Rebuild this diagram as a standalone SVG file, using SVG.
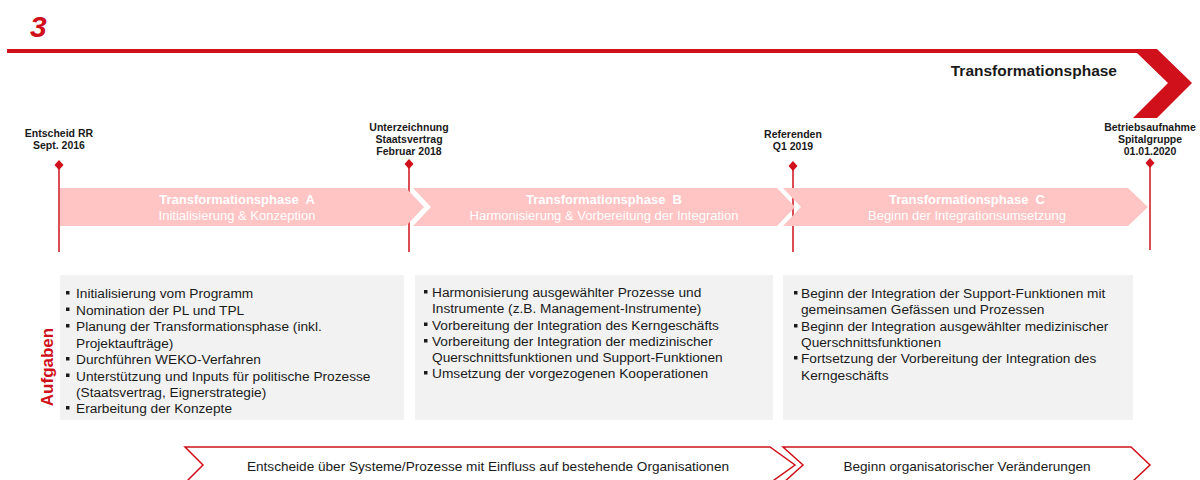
<svg xmlns="http://www.w3.org/2000/svg" width="1200" height="480" viewBox="0 0 1200 480">
<style>
text{font-family:"Liberation Sans",Arial,sans-serif}
.ms{font-size:10.5px;font-weight:bold;fill:#1a1a1a;text-anchor:middle}
.mline{stroke:#d0101a;stroke-width:1.5}
.dia{fill:#d0101a}
.band{fill:#ffc4c4}
.bt1{font-size:13px;font-weight:bold;fill:#fff;text-anchor:middle;white-space:pre}
.bt2{font-size:13px;fill:#fff;text-anchor:middle}
.box{fill:#f2f2f2}
.tx{font-size:13.7px;fill:#1a1a1a}
.bul{fill:#1a1a1a}
.chev{fill:#fff;stroke:#d0101a;stroke-width:1.5}
.ct{font-size:13.6px;fill:#1a1a1a;text-anchor:middle}
</style>
<rect width="1200" height="480" fill="#fff"/>
<g id="header">
<text x="30" y="37" font-size="30" font-weight="bold" font-style="italic" fill="#d0101a">3</text>
<polygon points="7,49 1157,49 1192,83 1157,118 1133,118 1168,83 1137,53 7,53" fill="#d0101a"/>
<text x="1117" y="76" font-size="15.5" font-weight="bold" fill="#1a1a1a" text-anchor="end">Transformationsphase</text>
</g>
<g id="connectors">
<line class="mline" x1="59" y1="165" x2="59" y2="252"/>
<line class="mline" x1="409" y1="164" x2="409" y2="252"/>
<line class="mline" x1="793" y1="166" x2="793" y2="252"/>
<line class="mline" x1="1150" y1="163" x2="1150" y2="250"/>
</g>
<g id="milestone-1">
<text class="ms" x="59" y="137">Entscheid RR</text>
<text class="ms" x="59" y="149">Sept. 2016</text>
<polygon class="dia" points="59,160 63.5,165 59,170 54.5,165"/>
</g>
<g id="milestone-2">
<text class="ms" x="409" y="131">Unterzeichnung</text>
<text class="ms" x="409" y="143">Staatsvertrag</text>
<text class="ms" x="409" y="155">Februar 2018</text>
<polygon class="dia" points="409,159 413.5,164 409,169 404.5,164"/>
</g>
<g id="milestone-3">
<text class="ms" x="793" y="138">Referenden</text>
<text class="ms" x="793" y="150">Q1 2019</text>
<polygon class="dia" points="793,161 797.5,166 793,171 788.5,166"/>
</g>
<g id="milestone-4">
<text class="ms" x="1150" y="131">Betriebsaufnahme</text>
<text class="ms" x="1150" y="143">Spitalgruppe</text>
<text class="ms" x="1150" y="155">01.01.2020</text>
<polygon class="dia" points="1150,158 1154.5,163 1150,168 1145.5,163"/>
</g>
<g id="phase-a">
<polygon class="band" points="60,188 406,188 424,207 406,226 60,226"/>
<text class="bt1" x="237" y="204">Transformationsphase  A</text>
<text class="bt2" x="237" y="220">Initialisierung &amp; Konzeption</text>
</g>
<g id="phase-b">
<polygon class="band" points="413,188 777,188 795,207 777,226 413,226 431,207"/>
<text class="bt1" x="604" y="204">Transformationsphase  B</text>
<text class="bt2" x="604" y="220">Harmonisierung &amp; Vorbereitung der Integration</text>
</g>
<g id="phase-c">
<polygon class="band" points="783,188 1128,188 1148,207 1128,226 783,226 801,207"/>
<text class="bt1" x="967" y="204">Transformationsphase  C</text>
<text class="bt2" x="967" y="220">Beginn der Integrationsumsetzung</text>
</g>
<g id="aufgaben-label">
<text x="0" y="0" transform="translate(53,367) rotate(-90)" font-size="17" font-weight="bold" fill="#d0101a" text-anchor="middle">Aufgaben</text>
</g>
<g id="tasks-a">
<rect class="box" x="60" y="275" width="344" height="145"/>
<rect class="bul" x="66" y="291" width="3.5" height="3.5"/>
<text class="tx" x="76" y="298">Initialisierung vom Programm</text>
<rect class="bul" x="66" y="307.5" width="3.5" height="3.5"/>
<text class="tx" x="76" y="314.5">Nomination der PL und TPL</text>
<rect class="bul" x="66" y="324" width="3.5" height="3.5"/>
<text class="tx" x="76" y="331">Planung der Transformationsphase (inkl.</text>
<text class="tx" x="76" y="347.5">Projektaufträge)</text>
<rect class="bul" x="66" y="357" width="3.5" height="3.5"/>
<text class="tx" x="76" y="364">Durchführen WEKO-Verfahren</text>
<rect class="bul" x="66" y="373.5" width="3.5" height="3.5"/>
<text class="tx" x="76" y="380.5">Unterstützung und Inputs für politische Prozesse</text>
<text class="tx" x="76" y="397">(Staatsvertrag, Eignerstrategie)</text>
<rect class="bul" x="66" y="406" width="3.5" height="3.5"/>
<text class="tx" x="76" y="413">Erarbeitung der Konzepte</text>
</g>
<g id="tasks-b">
<rect class="box" x="415" y="275" width="358" height="145"/>
<rect class="bul" x="424" y="290" width="3.5" height="3.5"/>
<text class="tx" x="432" y="297">Harmonisierung ausgewählter Prozesse und</text>
<text class="tx" x="432" y="313">Instrumente (z.B. Management-Instrumente)</text>
<rect class="bul" x="424" y="322.5" width="3.5" height="3.5"/>
<text class="tx" x="432" y="329.5">Vorbereitung der Integration des Kerngeschäfts</text>
<rect class="bul" x="424" y="339" width="3.5" height="3.5"/>
<text class="tx" x="432" y="346">Vorbereitung der Integration der medizinischer</text>
<text class="tx" x="432" y="362">Querschnittsfunktionen und Support-Funktionen</text>
<rect class="bul" x="424" y="371" width="3.5" height="3.5"/>
<text class="tx" x="432" y="378">Umsetzung der vorgezogenen Kooperationen</text>
</g>
<g id="tasks-c">
<rect class="box" x="783" y="275" width="350" height="145"/>
<rect class="bul" x="794" y="291" width="3.5" height="3.5"/>
<text class="tx" x="801" y="298">Beginn der Integration der Support-Funktionen mit</text>
<text class="tx" x="801" y="314">gemeinsamen Gefässen und Prozessen</text>
<rect class="bul" x="794" y="324" width="3.5" height="3.5"/>
<text class="tx" x="801" y="331">Beginn der Integration ausgewählter medizinischer</text>
<text class="tx" x="801" y="347">Querschnittsfunktionen</text>
<rect class="bul" x="794" y="356" width="3.5" height="3.5"/>
<text class="tx" x="801" y="363">Fortsetzung der Vorbereitung der Integration des</text>
<text class="tx" x="801" y="379.5">Kerngeschäfts</text>
</g>
<g id="chevron-1">
<polygon class="chev" points="185,447 770,447 795,465 770,483 185,483 203,465"/>
<text class="ct" x="488" y="471">Entscheide über Systeme/Prozesse mit Einfluss auf bestehende Organisationen</text>
</g>
<g id="chevron-2">
<polygon class="chev" points="783,447 1131,447 1150,465 1131,483 783,483 803,465"/>
<text class="ct" x="967" y="471">Beginn organisatorischer Veränderungen</text>
</g>
</svg>
